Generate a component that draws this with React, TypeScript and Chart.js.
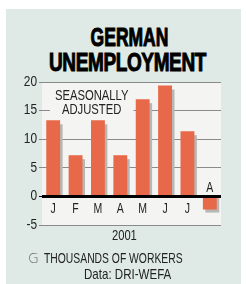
import React, { useEffect, useRef } from "react";
import { Chart, registerables } from "chart.js";

Chart.register(...registerables);

const months: string[] = ["J", "F", "M", "A", "M", "J", "J", "A"];
const unemploymentChange: number[] = [13.3, 7.2, 13.3, 7.2, 17.0, 19.4, 11.4, -2.3];
const yMin = -5;
const yMax = 20;
const yStep = 5;
const noteLines: string[] = ["SEASONALLY", "ADJUSTED"];

const SANS = "'Liberation Sans', Arial, sans-serif";
const BAR = "#e8694a";
const SHADOW = "#b7b7b5";
const PLOT_BG = "#f4f4f2";
const PANEL_BG = "#dfeae6";
const INK = "#222";

function narrowText(ctx: any, s: string, x: number, y: number, size: number, sx: number, align: string) {
  ctx.save();
  ctx.font = `${size}px ${SANS}`;
  ctx.textBaseline = "middle";
  ctx.textAlign = align;
  ctx.translate(x, y);
  ctx.scale(sx, 1);
  ctx.fillText(s, 0, 0);
  ctx.restore();
}

const chartPlugin = {
  id: "custom",
  beforeDraw(chart: any) {
    const { ctx, chartArea: a } = chart;
    ctx.save();
    ctx.fillStyle = PLOT_BG;
    ctx.fillRect(a.left, a.top, a.right - a.left, a.bottom - a.top);
    ctx.restore();
  },
  afterDraw(chart: any) {
    const { ctx, scales, chartArea: a } = chart;
    ctx.save();
    ctx.fillStyle = INK;
    scales.y.ticks.forEach((t: any) => {
      narrowText(ctx, String(t.value), a.left - 5, scales.y.getPixelForValue(t.value), 14, 0.85, "right");
    });
    ctx.restore();
  },
  beforeDatasetsDraw(chart: any) {
    const { ctx, scales } = chart;
    const meta = chart.getDatasetMeta(0);
    ctx.save();
    ctx.fillStyle = SHADOW;
    const base = scales.y.getPixelForValue(0);
    meta.data.forEach((bar: any, i: number) => {
      const cx = scales.x.getPixelForValue(i);
      const yv = scales.y.getPixelForValue(unemploymentChange[i]);
      const w = bar.width;
      const left = cx - w / 2 + 2.5;
      if (yv < base) {
        const top = yv + 4;
        ctx.fillRect(left, top, w, base - top);
      } else {
        const bottom = yv + 3;
        ctx.fillRect(left, base, w, bottom - base);
      }
    });
    ctx.restore();
  },
  afterDatasetsDraw(chart: any) {
    const { ctx, chartArea: a, scales } = chart;
    const y0 = scales.y.getPixelForValue(0);
    ctx.save();
    ctx.strokeStyle = "#000";
    ctx.lineWidth = 3;
    ctx.beginPath();
    ctx.moveTo(a.left, y0);
    ctx.lineTo(a.right, y0);
    ctx.stroke();

    ctx.fillStyle = INK;
    months.forEach((m, i) => {
      const v = unemploymentChange[i];
      const ty = v >= 0 ? y0 + 13 : y0 - 8;
      narrowText(ctx, m, scales.x.getPixelForValue(i), ty, 14, 0.75, "center");
    });

    const nx = scales.x.getPixelForValue(1.72);
    const ny1 = scales.y.getPixelForValue(17.5);
    const ny2 = scales.y.getPixelForValue(15.1);
    ctx.font = `15px ${SANS}`;
    const w = Math.max(...noteLines.map((l) => ctx.measureText(l).width)) * 0.75;
    ctx.fillStyle = PLOT_BG;
    ctx.fillRect(nx - w / 2 - 5, ny1 - 7, w + 10, ny2 - ny1 + 14);
    ctx.fillStyle = INK;
    narrowText(ctx, noteLines[0], nx, ny1, 15, 0.75, "center");
    narrowText(ctx, noteLines[1], nx, ny2, 15, 0.75, "center");
    ctx.restore();
  },
};

export default function App() {
  const ref = useRef<HTMLCanvasElement | null>(null);

  useEffect(() => {
    if (!ref.current) return;
    const chart = new Chart(ref.current, {
      type: "bar",
      data: {
        labels: months.map((m, i) => `${m}${i}`),
        datasets: [
          {
            data: unemploymentChange,
            backgroundColor: BAR,
            barPercentage: 0.62,
            categoryPercentage: 1,
          },
        ],
      },
      options: {
        responsive: false,
        animation: false,
        events: [],
        layout: { padding: { top: 82, bottom: 59, left: 0, right: 26 } },
        plugins: {
          legend: { display: false },
          tooltip: { enabled: false },
          title: { display: false },
        },
        scales: {
          x: { display: false },
          y: {
            min: yMin,
            max: yMax,
            ticks: {
              stepSize: yStep,
              display: false,
            },
            grid: {
              color: (c: any) => (c.tick && c.tick.value === 0 ? "#000" : "#8a8a8a"),
              lineWidth: 1,
              tickLength: 3,
              drawTicks: true,
            },
            border: { display: false },
            afterFit: (s: any) => {
              s.width = 42;
            },
          },
        },
      },
      plugins: [chartPlugin],
    });
    return () => chart.destroy();
  }, []);

  const text: React.CSSProperties = {
    position: "absolute",
    fontFamily: SANS,
    color: INK,
    whiteSpace: "nowrap",
    lineHeight: "16px",
  };

  const title: React.CSSProperties = {
    position: "absolute",
    left: 6,
    width: 247,
    textAlign: "center",
    fontFamily: SANS,
    fontWeight: 700,
    fontSize: 25,
    lineHeight: "25px",
    color: "#000",
    WebkitTextStroke: "1px #000",
    whiteSpace: "nowrap",
  };

  return (
    <div
      style={{
        position: "fixed",
        left: 0,
        top: 0,
        width: 247,
        height: 284,
        background: "#fff",
        overflow: "hidden",
      }}
    >
      <div
        style={{
          position: "absolute",
          left: 6,
          top: 9,
          width: 235,
          height: 275,
          background: PANEL_BG,
        }}
      />
      <div style={{ ...title, top: 25, transform: "scaleX(0.7)" }}>GERMAN</div>
      <div style={{ ...title, top: 50, left: 4, letterSpacing: -0.5, transform: "scaleX(0.76)" }}>UNEMPLOYMENT</div>
      <canvas
        ref={ref}
        width={247}
        height={284}
        style={{ position: "absolute", left: 0, top: 0, width: 247, height: 284 }}
      />
      <div
        style={{
          ...text,
          left: 0,
          width: 247,
          top: 227,
          textAlign: "center",
          fontSize: 14,
          transform: "scaleX(0.8)",
          transformOrigin: "124px 0",
          paddingLeft: 1,
        }}
      >
        2001
      </div>
      <div style={{ ...text, left: 28, top: 250, fontSize: 15 }}>
        <span style={{ color: "#666", fontFamily: "'DejaVu Sans', sans-serif", fontWeight: 200, fontSize: 14 }}>G</span>
        <span
          style={{
            display: "inline-block",
            marginLeft: 5,
            transform: "scaleX(0.69)",
            transformOrigin: "left",
          }}
        >
          THOUSANDS OF WORKERS
        </span>
      </div>
      <div
        style={{ ...text, left: 84, top: 266, fontSize: 15, transform: "scaleX(0.77)", transformOrigin: "left" }}
      >
        Data: DRI-WEFA
      </div>
    </div>
  );
}
